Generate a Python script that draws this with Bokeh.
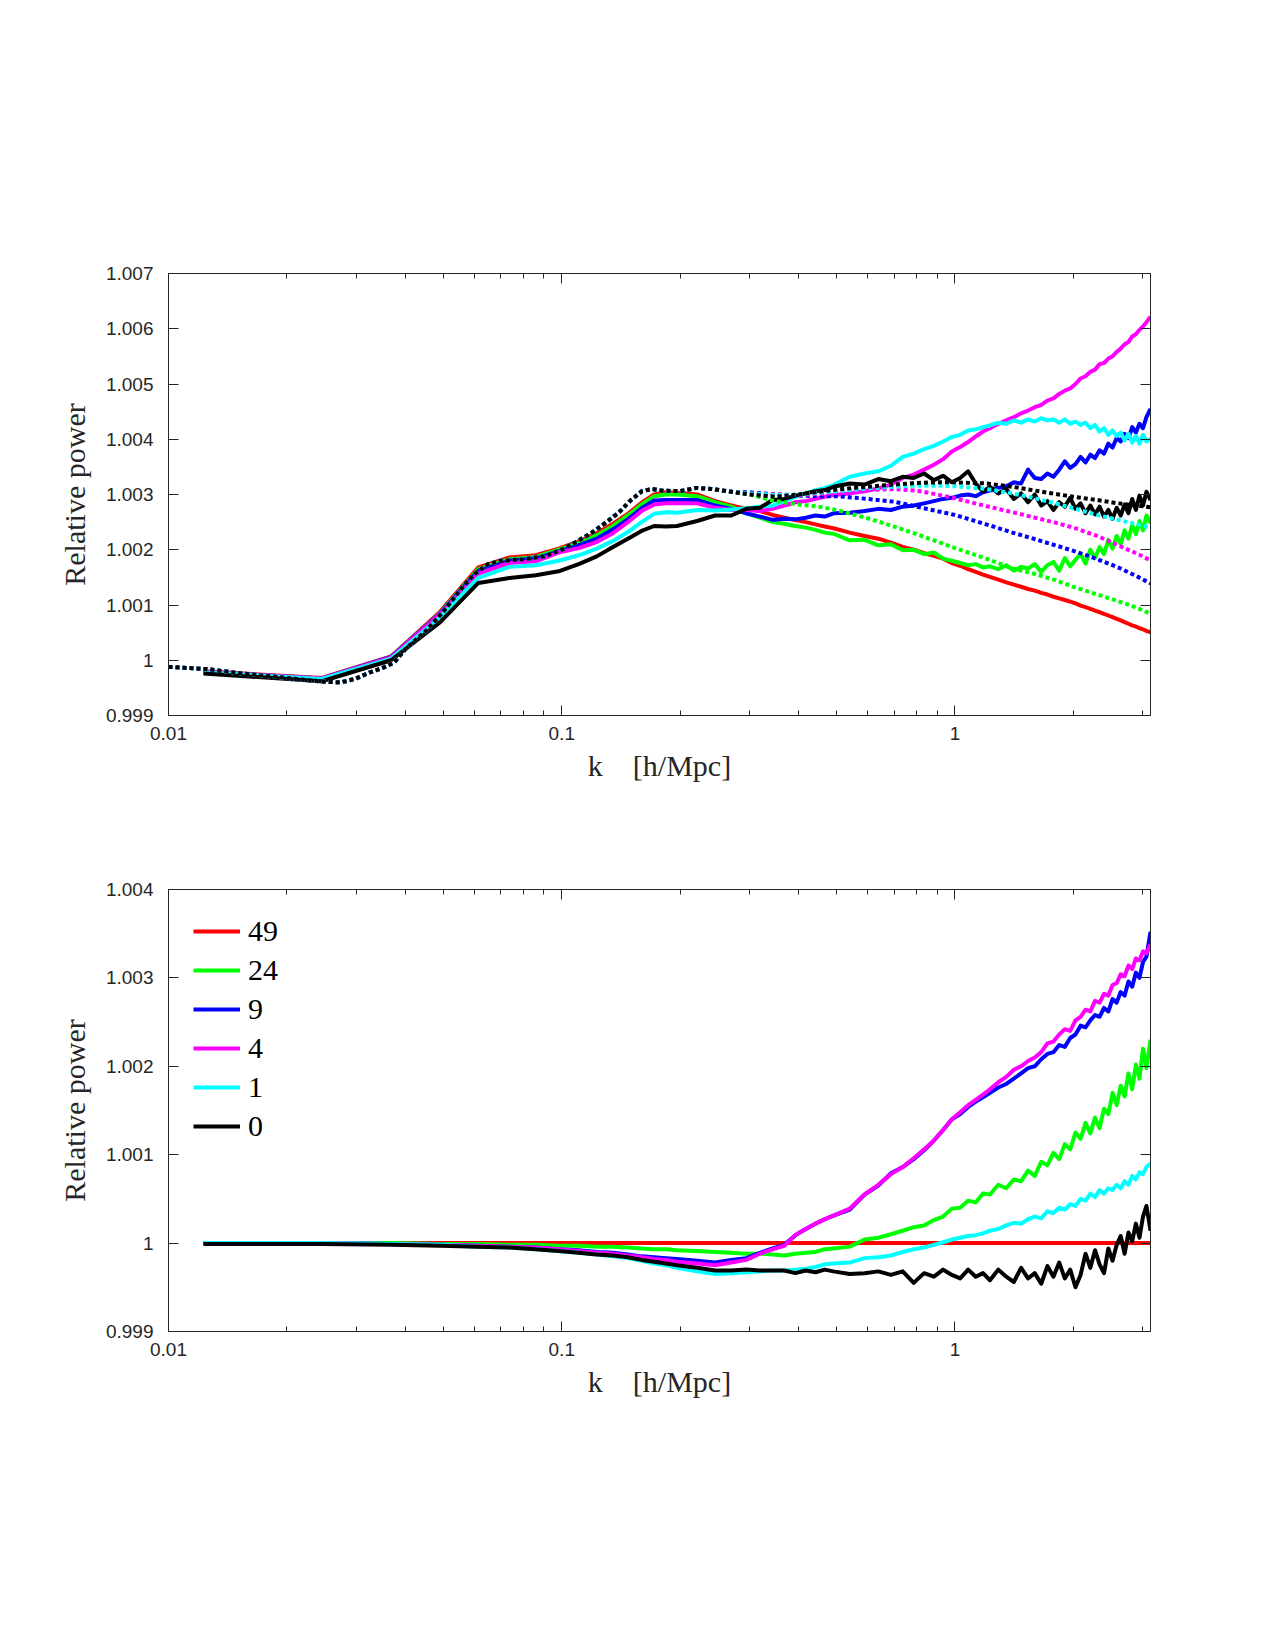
import numpy as np
from bokeh.plotting import figure
from bokeh.models import (FixedTicker, CustomJSTickFormatter, LogAxis, LinearAxis,
                          Legend, LegendItem)
from bokeh.layouts import column
from bokeh.embed import file_html
from bokeh.resources import INLINE

# ---------------- data ----------------
# k bins: k = n * (2*pi/512) h/Mpc
DK = 2 * np.pi / 512
N_BINS = [1, 2, 3, 4, 5, 6, 7, 8, 9, 10, 11, 12, 13, 14, 15, 16,
          18, 20, 22, 24, 26, 28, 30, 32, 34, 36, 38, 40,
          44, 48, 52, 56, 60, 64, 68, 72, 76, 80, 84, 88, 92, 96, 100,
          105, 110, 115, 120, 125, 130, 135, 140, 145, 150, 155, 160, 165, 170, 175, 180,
          185, 190, 195, 200, 205, 210, 215, 220, 225, 230, 235, 240, 245, 250, 256]

SERIES = ["49", "24", "9", "4", "1", "0"]
COLORS = ["#ff0000", "#00ff00", "#0000ff", "#ff00ff", "#00ffff", "#000000"]

# Top panel, solid curves: (relative power - 1) in units of 1e-3
TOP_49 = [-0.20, -0.32, 0.07, 0.88, 1.68, 1.86, 1.90, 2.02, 2.15, 2.30, 2.47, 2.65, 2.85, 3.00, 3.04, 3.03,
          3.00, 2.88, 2.80, 2.74, 2.70, 2.63, 2.58, 2.54, 2.50, 2.46, 2.42, 2.39,
          2.31, 2.25, 2.20, 2.13, 2.05, 2.00, 1.94, 1.89, 1.84, 1.76, 1.71, 1.65, 1.60, 1.55, 1.51,
          1.46, 1.41, 1.37, 1.33, 1.29, 1.26, 1.22, 1.19, 1.15, 1.12, 1.09, 1.06, 1.03, 0.99, 0.96, 0.93,
          0.90, 0.87, 0.84, 0.81, 0.78, 0.75, 0.72, 0.69, 0.66, 0.63, 0.61, 0.58, 0.56, 0.53, 0.51]
TOP_24 = [-0.21, -0.33, 0.06, 0.86, 1.65, 1.83, 1.87, 2.00, 2.12, 2.26, 2.43, 2.62, 2.82, 2.97, 3.00, 3.00,
          2.97, 2.86, 2.78, 2.66, 2.58, 2.50, 2.47, 2.43, 2.40, 2.36, 2.31, 2.29,
          2.17, 2.18, 2.08, 2.10, 1.99, 2.00, 1.92, 1.95, 1.84, 1.80, 1.76, 1.72, 1.74, 1.68, 1.70,
          1.65, 1.72, 1.62, 1.69, 1.66, 1.74, 1.60, 1.72, 1.78, 1.62, 1.85, 1.70, 1.82, 1.92, 1.75, 2.00,
          1.85, 2.05, 1.92, 2.18, 2.02, 2.25, 2.10, 2.35, 2.20, 2.45, 2.28, 2.52, 2.35, 2.62, 2.48]
TOP_9 = [-0.21, -0.33, 0.06, 0.85, 1.62, 1.80, 1.84, 1.97, 2.08, 2.20, 2.37, 2.55, 2.75, 2.89, 2.90, 2.90,
         2.90, 2.80, 2.74, 2.66, 2.60, 2.54, 2.56, 2.55, 2.58, 2.62, 2.60, 2.66,
         2.67, 2.70, 2.74, 2.72, 2.78, 2.80, 2.84, 2.88, 2.92, 2.94, 2.98, 3.00, 2.97, 3.04, 3.07,
         3.12, 3.15, 3.22, 3.20, 3.45, 3.30, 3.28, 3.38, 3.32, 3.45, 3.60, 3.48, 3.55, 3.68, 3.58, 3.72,
         3.66, 3.80, 3.74, 3.92, 3.85, 4.02, 3.96, 4.10, 4.02, 4.22, 4.12, 4.28, 4.20, 4.40, 4.55]
TOP_4 = [-0.21, -0.33, 0.05, 0.84, 1.57, 1.76, 1.79, 1.95, 2.03, 2.14, 2.30, 2.50, 2.70, 2.82, 2.84, 2.84,
         2.84, 2.76, 2.72, 2.72, 2.70, 2.74, 2.80, 2.86, 2.88, 2.92, 2.96, 2.99,
         3.02, 3.06, 3.11, 3.18, 3.30, 3.36, 3.45, 3.54, 3.64, 3.78, 3.86, 3.95, 4.05, 4.14, 4.20,
         4.28, 4.34, 4.40, 4.47, 4.52, 4.58, 4.62, 4.70, 4.74, 4.82, 4.88, 4.92, 5.00, 5.10, 5.14, 5.22,
         5.26, 5.36, 5.38, 5.46, 5.50, 5.58, 5.64, 5.72, 5.76, 5.86, 5.90, 5.98, 6.04, 6.12, 6.22]
TOP_1 = [-0.22, -0.34, 0.03, 0.78, 1.49, 1.69, 1.72, 1.80, 1.90, 2.02, 2.16, 2.32, 2.50, 2.65, 2.68, 2.67,
         2.72, 2.71, 2.73, 2.75, 2.78, 2.80, 2.88, 2.96, 3.02, 3.08, 3.12, 3.17,
         3.32, 3.38, 3.42, 3.52, 3.68, 3.74, 3.82, 3.88, 3.96, 4.04, 4.08, 4.16, 4.18, 4.22, 4.25,
         4.30, 4.28, 4.34, 4.30, 4.36, 4.32, 4.38, 4.34, 4.36, 4.30, 4.36, 4.28, 4.32, 4.26, 4.30, 4.20,
         4.26, 4.14, 4.20, 4.08, 4.16, 4.06, 4.12, 3.98, 4.10, 3.94, 4.06, 3.92, 4.08, 3.96, 4.00]
TOP_0 = [-0.24, -0.38, 0.00, 0.69, 1.40, 1.49, 1.54, 1.61, 1.74, 1.88, 2.05, 2.20, 2.34, 2.43, 2.42, 2.43,
         2.52, 2.62, 2.62, 2.74, 2.76, 2.90, 2.92, 2.98, 3.02, 3.06, 3.08, 3.14,
         3.20, 3.18, 3.28, 3.24, 3.32, 3.30, 3.38, 3.26, 3.34, 3.22, 3.30, 3.42, 3.20, 3.05, 3.14,
         3.02, 3.10, 2.92, 3.02, 2.86, 3.00, 2.80, 2.88, 2.72, 2.86, 2.78, 2.94, 2.74, 2.84, 2.66, 2.80,
         2.64, 2.78, 2.60, 2.72, 2.56, 2.76, 2.62, 2.82, 2.66, 2.92, 2.72, 2.98, 2.80, 3.05, 2.90]

# Top panel, dotted (model) curves: shared low-k part, then per-series part
DOT_K_LOW = [0.01, 0.0125, 0.015, 0.0175, 0.02, 0.0225, 0.025, 0.0275, 0.03, 0.0325, 0.035, 0.0375,
             0.04, 0.045, 0.05, 0.055, 0.06, 0.065, 0.07, 0.08, 0.09, 0.1, 0.11, 0.12, 0.13, 0.14,
             0.15, 0.16, 0.17, 0.18, 0.2, 0.22, 0.24, 0.27]
DOT_LOW = [-0.12, -0.16, -0.23, -0.28, -0.32, -0.36, -0.39, -0.40, -0.33, -0.22, -0.14, -0.04,
           0.20, 0.52, 0.88, 1.26, 1.56, 1.74, 1.80, 1.83, 1.88, 2.00, 2.16, 2.32, 2.50, 2.68,
           2.90, 3.06, 3.10, 3.07, 3.06, 3.12, 3.10, 3.05]
DOT_K_HIGH = [0.3, 0.35, 0.4, 0.45, 0.5, 0.6, 0.7, 0.8, 0.9, 1.0, 1.2, 1.4, 1.6, 1.8, 2.0, 2.3, 2.6, 2.9, 3.1416]
DOT_24 = [3.00, 2.88, 2.82, 2.78, 2.72, 2.57, 2.42, 2.28, 2.15, 2.03, 1.84, 1.66, 1.56, 1.45, 1.33, 1.19, 1.07, 0.95, 0.84]
DOT_9 = [3.04, 3.00, 2.98, 2.97, 2.97, 2.92, 2.87, 2.78, 2.70, 2.63, 2.46, 2.31, 2.19, 2.08, 1.98, 1.83, 1.68, 1.52, 1.39]
DOT_4 = [3.02, 3.00, 2.99, 3.01, 3.03, 3.08, 3.10, 3.07, 3.00, 2.93, 2.79, 2.68, 2.58, 2.49, 2.40, 2.25, 2.08, 1.93, 1.81]
DOT_1 = [3.02, 2.99, 3.00, 3.03, 3.06, 3.11, 3.14, 3.16, 3.16, 3.15, 3.10, 3.02, 2.93, 2.84, 2.75, 2.63, 2.54, 2.46, 2.40]
DOT_0 = [3.00, 2.96, 3.00, 3.05, 3.09, 3.14, 3.18, 3.21, 3.22, 3.22, 3.20, 3.14, 3.07, 3.01, 2.96, 2.90, 2.84, 2.80, 2.77]

# Bottom panel, solid curves: (relative power - 1) in units of 1e-3
BOT_49 = [0.00, 0.00, 0.00, 0.00, 0.00, 0.00, 0.00, 0.00, 0.00, 0.00, 0.00, 0.00, 0.00, 0.00, 0.00, 0.00,
          0.00, 0.00, 0.00, 0.00, 0.00, 0.00, 0.00, 0.00, 0.00, 0.00, 0.00, 0.00,
          0.00, 0.00, 0.00, 0.00, 0.00, 0.00, 0.00, 0.00, 0.00, 0.00, 0.00, 0.00, 0.00, 0.00, 0.00,
          0.00, 0.00, 0.00, 0.00, 0.00, 0.00, 0.00, 0.00, 0.00, 0.00, 0.00, 0.00, 0.00, 0.00, 0.00, 0.00,
          0.00, 0.00, 0.00, 0.00, 0.00, 0.00, 0.00, 0.00, 0.00, 0.00, 0.00, 0.00, 0.00, 0.00, 0.00]
BOT_24 = [0.00, 0.00, 0.00, -0.01, -0.01, -0.02, -0.02, -0.03, -0.03, -0.04, -0.04, -0.05, -0.06, -0.07, -0.07, -0.08,
          -0.09, -0.10, -0.11, -0.12, -0.12, -0.13, -0.14, -0.12, -0.11, -0.10, -0.07, -0.06,
          -0.04, 0.04, 0.06, 0.10, 0.14, 0.18, 0.20, 0.26, 0.30, 0.39, 0.40, 0.48, 0.46, 0.56, 0.55,
          0.66, 0.62, 0.72, 0.70, 0.82, 0.76, 0.92, 0.88, 1.02, 0.95, 1.12, 1.06, 1.25, 1.18, 1.36, 1.24,
          1.42, 1.30, 1.52, 1.46, 1.70, 1.56, 1.78, 1.66, 1.92, 1.74, 2.02, 1.86, 2.20, 1.98, 2.30]
BOT_9 = [0.00, 0.00, -0.01, -0.02, -0.03, -0.04, -0.05, -0.07, -0.08, -0.10, -0.11, -0.13, -0.15, -0.16, -0.17, -0.18,
         -0.20, -0.22, -0.19, -0.17, -0.11, -0.06, -0.02, 0.09, 0.16, 0.22, 0.27, 0.31,
         0.38, 0.55, 0.65, 0.79, 0.86, 0.95, 1.05, 1.16, 1.28, 1.40, 1.46, 1.54, 1.60, 1.65, 1.70,
         1.76, 1.80, 1.86, 1.92, 1.98, 2.00, 2.08, 2.14, 2.16, 2.24, 2.22, 2.32, 2.36, 2.46, 2.44, 2.52,
         2.58, 2.56, 2.66, 2.62, 2.76, 2.72, 2.84, 2.80, 2.96, 2.90, 3.06, 3.00, 3.18, 3.24, 3.52]
BOT_4 = [0.00, 0.00, -0.01, -0.02, -0.03, -0.04, -0.05, -0.07, -0.09, -0.11, -0.12, -0.14, -0.16, -0.18, -0.19, -0.21,
         -0.23, -0.25, -0.22, -0.19, -0.12, -0.07, -0.03, 0.09, 0.16, 0.22, 0.27, 0.31,
         0.39, 0.55, 0.66, 0.78, 0.86, 0.96, 1.06, 1.16, 1.28, 1.40, 1.48, 1.56, 1.62, 1.68, 1.74,
         1.82, 1.88, 1.96, 2.00, 2.06, 2.10, 2.16, 2.26, 2.28, 2.36, 2.42, 2.40, 2.52, 2.56, 2.64, 2.62,
         2.74, 2.72, 2.82, 2.80, 2.92, 2.94, 3.04, 3.02, 3.14, 3.10, 3.22, 3.20, 3.30, 3.28, 3.38]
BOT_1 = [0.00, 0.00, -0.01, -0.02, -0.04, -0.05, -0.07, -0.09, -0.11, -0.13, -0.15, -0.17, -0.20, -0.23, -0.25, -0.28,
         -0.32, -0.35, -0.34, -0.33, -0.32, -0.31, -0.31, -0.30, -0.29, -0.27, -0.24, -0.23,
         -0.22, -0.17, -0.16, -0.14, -0.10, -0.07, -0.05, -0.02, 0.01, 0.04, 0.06, 0.08, 0.09, 0.11, 0.14,
         0.16, 0.20, 0.23, 0.22, 0.27, 0.30, 0.28, 0.36, 0.34, 0.40, 0.38, 0.44, 0.42, 0.50, 0.48, 0.56,
         0.52, 0.60, 0.56, 0.62, 0.60, 0.66, 0.62, 0.70, 0.66, 0.76, 0.72, 0.80, 0.78, 0.86, 0.90]
BOT_0 = [-0.01, -0.01, -0.02, -0.03, -0.04, -0.05, -0.07, -0.09, -0.11, -0.13, -0.14, -0.16, -0.19, -0.21, -0.23, -0.25,
         -0.28, -0.31, -0.31, -0.30, -0.31, -0.31, -0.31, -0.34, -0.31, -0.33, -0.30, -0.32,
         -0.35, -0.34, -0.32, -0.36, -0.32, -0.45, -0.34, -0.38, -0.30, -0.36, -0.40, -0.30, -0.38, -0.34, -0.42,
         -0.30, -0.38, -0.44, -0.28, -0.40, -0.34, -0.46, -0.26, -0.38, -0.22, -0.40, -0.30, -0.50, -0.36, -0.12, -0.28,
         -0.08, -0.24, -0.34, -0.06, -0.20, -0.02, 0.08, -0.12, 0.12, 0.02, 0.22, 0.06, 0.30, 0.42, 0.14]

X_TICKS = [0.01, 0.1, 1.0]
X_MINOR = [0.02, 0.03, 0.04, 0.05, 0.06, 0.07, 0.08, 0.09,
           0.2, 0.3, 0.4, 0.5, 0.6, 0.7, 0.8, 0.9, 2.0, 3.0]
Y_TICKS_TOP = [0.999, 1.000, 1.001, 1.002, 1.003, 1.004, 1.005, 1.006, 1.007]
Y_TICKS_BOT = [0.999, 1.000, 1.001, 1.002, 1.003, 1.004]
X_TITLE = "k\u00a0\u00a0\u00a0\u00a0[h/Mpc]"
Y_TITLE = "Relative power"

# ---------------- helpers ----------------
K_SOLID = [DK * n for n in N_BINS]
K_DOT = DOT_K_LOW + DOT_K_HIGH


def rel(vals):
    return [1.0 + v * 1e-3 for v in vals]


AX = "#262626"
YFMT = "return tick.toFixed(3).replace(/\\.?0+$/, '');"
LW = 4


def style_axis(ax, show_labels):
    ax.axis_line_color = AX
    ax.axis_line_width = 1
    ax.major_tick_line_color = AX
    ax.minor_tick_line_color = AX
    ax.major_tick_in = 10
    ax.major_tick_out = 0
    ax.minor_tick_in = 5
    ax.minor_tick_out = 0
    ax.major_label_text_font = "Liberation Sans"
    ax.major_label_text_font_size = "19px"
    ax.major_label_text_color = AX if show_labels else None


def make_fig(height, top, bottom, yr, yticks):
    p = figure(width=1275, height=height, x_axis_type="log", x_range=(0.01, np.pi), y_range=yr,
               output_backend="svg", toolbar_location=None,
               min_border_left=168, min_border_right=125, min_border_top=top, min_border_bottom=bottom)
    p.grid.visible = False
    p.outline_line_color = AX
    p.background_fill_color = "white"
    p.border_fill_color = "white"

    xa = p.xaxis[0]
    xa.ticker = FixedTicker(ticks=X_TICKS, minor_ticks=X_MINOR)
    xa.formatter = CustomJSTickFormatter(code="return String(tick);")
    style_axis(xa, True)
    xa.major_label_standoff = 11
    xa.axis_label = X_TITLE
    xa.axis_label_text_font = "Liberation Serif"
    xa.axis_label_text_font_size = "30px"
    xa.axis_label_text_font_style = "normal"
    xa.axis_label_text_color = AX
    xa.axis_label_standoff = 6

    ya = p.yaxis[0]
    ya.ticker = FixedTicker(ticks=yticks)
    ya.formatter = CustomJSTickFormatter(code=YFMT)
    style_axis(ya, True)
    ya.minor_tick_line_color = None
    ya.major_label_standoff = 15
    ya.axis_label = Y_TITLE
    ya.axis_label_text_font = "Liberation Serif"
    ya.axis_label_text_font_size = "30px"
    ya.axis_label_text_font_style = "normal"
    ya.axis_label_text_color = AX
    ya.axis_label_standoff = 12

    top_ax = LogAxis(ticker=FixedTicker(ticks=X_TICKS, minor_ticks=X_MINOR),
                     formatter=CustomJSTickFormatter(code="return '';"))
    style_axis(top_ax, False)
    p.add_layout(top_ax, "above")

    right_ax = LinearAxis(ticker=FixedTicker(ticks=yticks),
                          formatter=CustomJSTickFormatter(code="return '';"))
    style_axis(right_ax, False)
    right_ax.minor_tick_line_color = None
    p.add_layout(right_ax, "right")
    return p


# ---------------- top panel ----------------
p1 = make_fig(800, 273, 85, (0.999, 1.007), Y_TICKS_TOP)
for vals, c in zip([TOP_49, TOP_24, TOP_9, TOP_4, TOP_1, TOP_0], COLORS):
    p1.line(K_SOLID, rel(vals), line_color=c, line_width=LW, line_join="round")
for vals, c in zip([DOT_24, DOT_9, DOT_4, DOT_1, DOT_0], COLORS[1:]):
    p1.line(K_DOT, rel(DOT_LOW + vals), line_color=c, line_width=LW, line_dash="4 3")

# ---------------- bottom panel ----------------
p2 = make_fig(845, 89, 314, (0.999, 1.004), Y_TICKS_BOT)
items = []
for name, vals, c in zip(SERIES, [BOT_49, BOT_24, BOT_9, BOT_4, BOT_1, BOT_0], COLORS):
    r = p2.line(K_SOLID, rel(vals), line_color=c, line_width=LW, line_join="round")
    items.append(LegendItem(label=name, renderers=[r]))

legend = Legend(items=items, location="top_left", border_line_color=None,
                background_fill_alpha=0, label_text_font="Liberation Serif",
                label_text_font_size="30px", label_text_color="#000000",
                glyph_width=47, glyph_height=30, label_height=30, spacing=5,
                padding=17, margin=25, label_standoff=8)
p2.add_layout(legend)

layout = column(p1, p2, spacing=0)
open("out.html", "w").write(file_html(layout, INLINE))
